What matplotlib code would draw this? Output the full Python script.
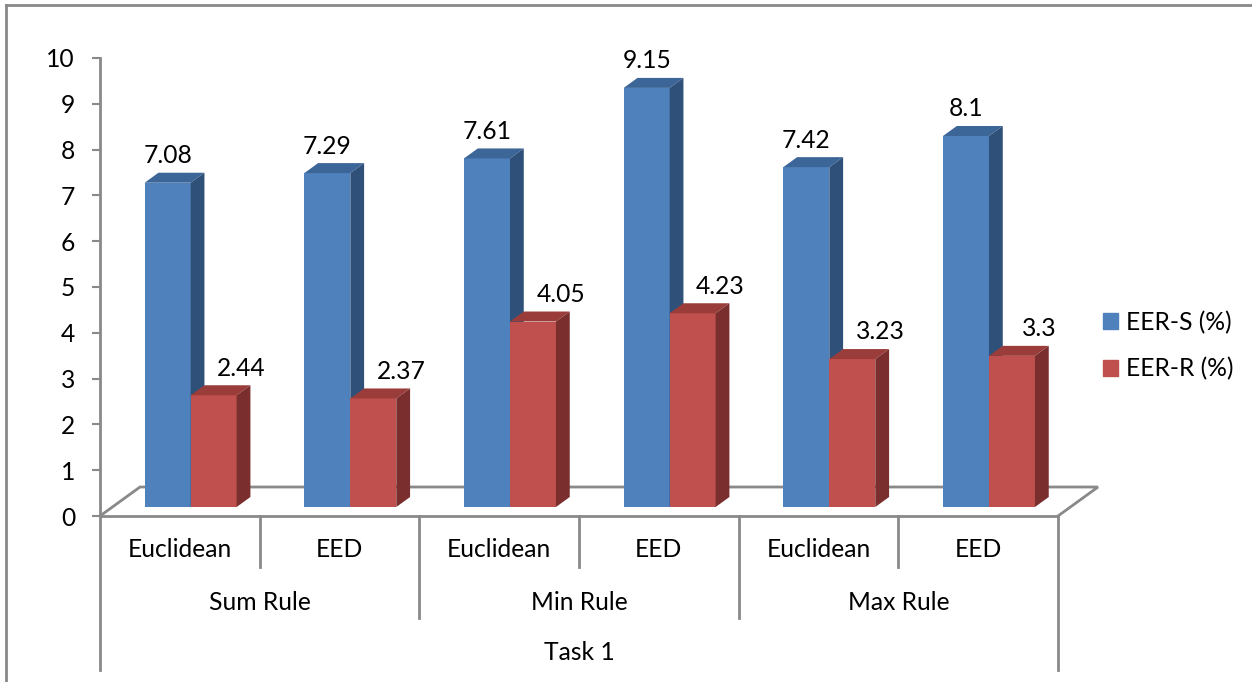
import matplotlib.pyplot as plt
from matplotlib.lines import Line2D
from matplotlib.patches import Rectangle

# data
methods = ["Euclidean", "EED", "Euclidean", "EED", "Euclidean", "EED"]
rules = ["Sum Rule", "Min Rule", "Max Rule"]
task = "Task 1"
eer_s = [7.08, 7.29, 7.61, 9.15, 7.42, 8.1]
eer_r = [2.44, 2.37, 4.05, 4.23, 3.23, 3.3]
series_names = ["EER-S (%)", "EER-R (%)"]

plt.rcParams['font.family'] = ['Lato', 'DejaVu Sans']
FS = 17.7
GRAY = '#898989'

fig = plt.figure(figsize=(12.52, 6.82), dpi=100)
ax = fig.add_axes([100 / 1252, 0.2434, 958 / 1252, 0.6716])
ax.set_xlim(0, len(methods))
ax.set_ylim(0, 10)

# outer border (top and left visible)
fig.add_artist(Line2D([6 / 1252, 1.0], [1 - 5 / 682, 1 - 5 / 682], color=GRAY, lw=2))
fig.add_artist(Line2D([6 / 1252, 6 / 1252], [0, 1 - 5 / 682], color=GRAY, lw=2))

# 3d depth in data units
DX, DY = 0.2505, 0.633          # full floor depth
ox, oy = 0.31 * DX, 0.31 * DY   # bar front plane
sx, sy = 0.345 * DX, 0.345 * DY  # bar depth
w = 0.288

n = len(methods)
# floor
ax.plot([0, DX, n + DX, n], [0, DY, DY, 0], color=GRAY, lw=2, clip_on=False, zorder=1,
        solid_joinstyle='miter')

colors = [('#4F81BD', '#3C6598', '#2F5078'),
          ('#C0504D', '#9A3D3A', '#7B2E2E')]


def draw_bar(x0, v, cols, z):
    front, top, side = cols
    x1 = x0 + w
    ax.fill([x0, x1, x1, x0], [oy, oy, oy + v, oy + v], color=front, lw=0, zorder=z, clip_on=False)
    ax.fill([x0, x1, x1 + sx, x0 + sx], [oy + v, oy + v, oy + v + sy, oy + v + sy],
            color=top, lw=0, zorder=z, clip_on=False)
    ax.fill([x1, x1 + sx, x1 + sx, x1], [oy, oy + sy, oy + v + sy, oy + v],
            color=side, lw=0, zorder=z, clip_on=False)


for i in range(n):
    c = i + 0.5 + ox - 0.01
    draw_bar(c - w, eer_s[i], colors[0], 3)
    draw_bar(c, eer_r[i], colors[1], 4)
    ax.annotate(f"{eer_s[i]:g}", (c - w / 2, oy + eer_s[i]), xytext=(0, 19.5),
                textcoords='offset points', ha='center', va='center', fontsize=FS)
    ax.annotate(f"{eer_r[i]:g}", (c + w / 2, oy + eer_r[i]), xytext=(20, 19.5),
                textcoords='offset points', ha='center', va='center', fontsize=FS)

# axes styling
for s in ['top', 'right']:
    ax.spines[s].set_visible(False)
ax.spines['left'].set_color(GRAY)
ax.spines['left'].set_linewidth(2)
ax.spines['bottom'].set_color(GRAY)
ax.spines['bottom'].set_linewidth(2)
ax.set_yticks(range(0, 11))
ax.tick_params(axis='y', length=6, width=1.5, color=GRAY, pad=12, labelsize=FS)
ax.set_xticks([])

# multi-level category axis
y_lab1, y_div1 = -0.742, -1.114
y_lab2, y_div2 = -1.878, -2.227
y_lab3, y_div3 = -2.991, -3.362
for i, m in enumerate(methods):
    ax.text(i + 0.5, y_lab1, m, ha='center', va='center', fontsize=FS, clip_on=False)
for i in range(1, n):
    bottom = y_div2 if i % 2 == 0 else y_div1
    ax.plot([i, i], [0, bottom], color=GRAY, lw=2, clip_on=False)
for j, r in enumerate(rules):
    ax.text(2 * j + 1, y_lab2, r, ha='center', va='center', fontsize=FS, clip_on=False)
ax.text(n / 2, y_lab3, task, ha='center', va='center', fontsize=FS, clip_on=False)
for xx in (0, n):
    ax.plot([xx, xx], [0, y_div3], color=GRAY, lw=2, clip_on=False)

# legend
handles = [Rectangle((0, 0), 1, 1, color=colors[k][0]) for k in range(2)]
fig.legend(handles, series_names, loc='center left', bbox_to_anchor=(1103 / 1252, 0.4934),
           frameon=False, fontsize=FS, handlelength=0.62, handleheight=0.62,
           handletextpad=0.3, labelspacing=0.95, borderpad=0, borderaxespad=0)

fig.savefig('out.png', dpi=100)
